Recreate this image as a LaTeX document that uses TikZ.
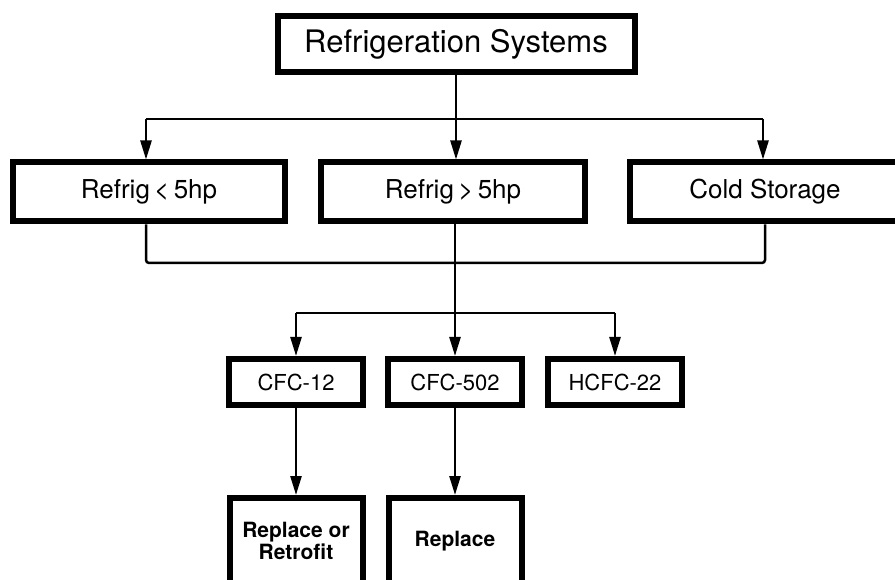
\documentclass[tikz,border=0pt]{standalone}
\usepackage{fontspec}
\setmainfont{TeX Gyre Heros}
\usetikzlibrary{arrows.meta}

\tikzset{
  box/.style={draw, line width=6pt, inner sep=0pt, align=center},
  wire/.style={line width=2.5pt, rounded corners=3pt},
  arr/.style={line width=2.5pt, -{Triangle[length=19pt,width=11pt]}}
}

\begin{document}
\begin{tikzpicture}[x=1pt,y=-1pt]
    \useasboundingbox (0,0) rectangle (895,580);
    \clip (0,0) rectangle (895,580);

    % top
    \node[box, minimum width=357pt, minimum height=56pt, font=\fontsize{31}{34}\selectfont]
        (sys) at (456,44) {Refrigeration Systems};

    % sizes
    \begin{scope}[every node/.style={box, minimum height=59pt, font=\fontsize{26}{30}\selectfont}]
        \node[minimum width=272pt] (small) at (149,192) {Refrig\,<\,5hp};
        \node[minimum width=264pt] (large) at (453,192) {Refrig\,>\,5hp};
        \node[minimum width=270pt] (cold)  at (765,192) {Cold Storage};
    \end{scope}

    % refrigerants
    \begin{scope}[every node/.style={box, minimum width=134pt, minimum height=46pt, font=\fontsize{22}{26}\selectfont}]
        \node (cfc12)  at (296,382) {CFC-12};
        \node (cfc502) at (455,382) {CFC-502};
        \node (hcfc22) at (615,382) {HCFC-22};
    \end{scope}

    % actions
    \begin{scope}[every node/.style={box, minimum width=133pt, minimum height=86pt, font=\bfseries\fontsize{21}{20}\selectfont}]
        \node (retro) at (296,541) {Replace or\\Retrofit};
        \node (repl)  at (455,541) {Replace};
    \end{scope}

    % junctions
    \coordinate (l1) at (146,119);
    \coordinate (r1) at (763,119);
    \coordinate (l2) at (146,263);
    \coordinate (r2) at (765,263);
    \coordinate (l3) at (296,313);
    \coordinate (r3) at (615,313);

    \draw[wire] (l1) -- (r1);
    \draw[arr] (sys.south) -- (sys.south |- large.north);
    \draw[arr] (l1) -- (l1 |- small.north);
    \draw[arr] (r1) -- (r1 |- cold.north);

    \draw[wire] (l1 |- small.south) -- (l2) -- (r2) -- (r2 |- cold.south);
    \draw[wire] (l3) -- (r3);
    \draw[arr] (cfc502.north |- large.south) -- (cfc502.north);
    \draw[arr] (l3) -- (cfc12.north);
    \draw[arr] (r3) -- (hcfc22.north);

    \draw[arr] (cfc12) -- (retro);
    \draw[arr] (cfc502) -- (repl);
\end{tikzpicture}
\end{document}
